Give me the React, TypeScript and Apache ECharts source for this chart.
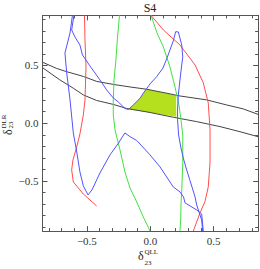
import React, { useEffect, useRef } from "react";
import * as echarts from "echarts";

const X_MIN = -0.85;
const X_MAX = 0.85;
const Y_MIN = -0.933;
const Y_MAX = 0.933;
const MAJOR_X = [-0.5, 0, 0.5];
const MINOR_X = [-0.8, -0.7, -0.6, -0.4, -0.3, -0.2, -0.1, 0.1, 0.2, 0.3, 0.4, 0.6, 0.7, 0.8];
const MAJOR_Y = [-0.5, 0, 0.5];
const MINOR_Y = [-0.9, -0.8, -0.7, -0.6, -0.4, -0.3, -0.2, -0.1, 0.1, 0.2, 0.3, 0.4, 0.6, 0.7, 0.8, 0.9];

const blackUpper = [
  [-0.846, 0.526], [-0.738, 0.474], [-0.659, 0.446], [-0.528, 0.405], [-0.423, 0.362],
  [-0.292, 0.336], [-0.16, 0.314], [-0.028, 0.294], [0.129, 0.26], [0.234, 0.236],
  [0.445, 0.202], [0.603, 0.158], [0.733, 0.124], [0.852, 0.076],
];
const blackLower = [
  [-0.846, 0.478], [-0.713, 0.375], [-0.607, 0.303], [-0.528, 0.245], [-0.423, 0.197],
  [-0.292, 0.163], [-0.186, 0.128], [-0.002, 0.093], [0.181, 0.052], [0.366, 0.014],
  [0.55, -0.029], [0.707, -0.073], [0.852, -0.117],
];
const fillRegion = [
  [-0.173, 0.121], [-0.134, 0.158], [-0.081, 0.216], [-0.055, 0.26], [-0.03, 0.294],
  [0.129, 0.26], [0.203, 0.24], [0.205, 0.056], [-0.002, 0.093],
];
const redLeft = [
  [-0.519, 0.933], [-0.515, 0.721], [-0.507, 0.487], [-0.515, 0.202], [-0.528, 0.072],
  [-0.555, -0.093], [-0.58, -0.205], [-0.61, -0.318], [-0.62, -0.404], [-0.607, -0.508],
  [-0.528, -0.612], [-0.423, -0.716],
];
const redRight = [
  [0.006, 0.933], [0.103, 0.807], [0.234, 0.677], [0.353, 0.504], [0.418, 0.349],
  [0.457, 0.176], [0.471, -0.058], [0.471, -0.343], [0.457, -0.551], [0.431, -0.678],
  [0.392, -0.776], [0.339, -0.933],
];
const greenLeft = [
  [-0.243, 0.933], [-0.26, 0.721], [-0.271, 0.548], [-0.286, 0.375], [-0.292, 0.202],
  [-0.292, 0.072], [-0.278, -0.058], [-0.239, -0.231], [-0.2, -0.421], [-0.16, -0.56],
  [-0.107, -0.681], [-0.055, -0.811], [-0.002, -0.933],
];
const greenRight = [
  [0.006, 0.933], [0.053, 0.781], [0.103, 0.66], [0.155, 0.487], [0.195, 0.314],
  [0.226, 0.158], [0.242, 0.029], [0.256, -0.101], [0.256, -0.343], [0.248, -0.577],
  [0.242, -0.707], [0.24, -0.819], [0.234, -0.933],
];
const blueOne = [
  [-0.614, 0.933], [-0.633, 0.781], [-0.673, 0.608], [-0.659, 0.435], [-0.633, 0.202],
  [-0.607, -0.084], [-0.58, -0.248], [-0.555, -0.421], [-0.528, -0.542], [-0.491, -0.62],
  [-0.46, -0.577], [-0.397, -0.43], [-0.318, -0.274], [-0.252, -0.173], [-0.2, -0.084],
  [-0.16, -0.116], [-0.107, -0.149], [-0.002, -0.274], [0.077, -0.378], [0.181, -0.551],
  [0.234, -0.594], [0.262, -0.638], [0.274, -0.689], [0.366, -0.75], [0.405, -0.785],
  [0.418, -0.933],
];
const blueTwo = [
  [-0.602, 0.933], [-0.62, 0.807], [-0.594, 0.747], [-0.555, 0.677], [-0.535, 0.591],
  [-0.476, 0.496], [-0.397, 0.375], [-0.344, 0.288], [-0.292, 0.219], [-0.252, 0.184],
  [-0.2, 0.128], [-0.173, 0.119], [-0.134, 0.158], [-0.081, 0.216], [-0.055, 0.26],
  [-0.002, 0.34], [0.05, 0.403], [0.1, 0.478], [0.132, 0.565], [0.155, 0.634],
  [0.181, 0.712], [0.2, 0.792], [0.221, 0.79], [0.248, 0.677], [0.256, 0.574],
  [0.246, 0.487], [0.234, 0.375], [0.221, 0.245], [0.215, 0.115], [0.215, 0.029],
  [0.223, -0.101], [0.242, -0.214], [0.26, -0.3], [0.282, -0.387], [0.313, -0.495],
  [0.353, -0.638], [0.366, -0.707], [0.405, -0.837], [0.413, -0.933],
];

const FRAME = "#555555";
const FONT = "Liberation Serif";
const BLUE = "#5252ff";
const RED = "#ff4d4d";
const GREEN = "#42e042";
const BLACK = "#444444";
const FILL = "#b4e01e";

const fmt = (v: number) => (v === 0 ? "0.0" : v < 0 ? "\u2212" + Math.abs(v).toFixed(1) : v.toFixed(1));

function axis(dim: "x" | "y", pos: string, vals: number[], len: number, line: boolean, label: boolean) {
  const isX = dim === "x";
  return {
    type: "value",
    min: isX ? X_MIN : Y_MIN,
    max: isX ? X_MAX : Y_MAX,
    position: pos,
    axisLine: { show: line, onZero: false, lineStyle: { color: FRAME, width: 1 } },
    axisTick: { show: true, inside: true, length: len, customValues: vals, lineStyle: { color: FRAME, width: 1 } },
    axisLabel: {
      show: label,
      customValues: vals,
      formatter: fmt,
      color: "#333",
      fontFamily: FONT,
      fontSize: 11,
      margin: isX ? 4 : 4,
    },
    splitLine: { show: false },
  };
}

function lineSeries(data: number[][], color: string, width = 1) {
  return {
    type: "line",
    data,
    showSymbol: false,
    symbol: "none",
    smooth: false,
    z: 3,
    lineStyle: { color, width },
  };
}

export default function App() {
  const ref = useRef<HTMLDivElement>(null);
  useEffect(() => {
    if (!ref.current) return;
    const chart = echarts.init(ref.current, null, { renderer: "svg" });
    chart.setOption({
      animation: false,
      backgroundColor: "#ffffff",
      grid: { left: 42.5, top: 15.4, width: 215.6, height: 215.7 },
      xAxis: [
        axis("x", "bottom", MAJOR_X, 5, true, true),
        axis("x", "bottom", MINOR_X, 3, false, false),
        axis("x", "top", MAJOR_X, 5, true, false),
        axis("x", "top", MINOR_X, 3, false, false),
      ],
      yAxis: [
        axis("y", "left", MAJOR_Y, 5, true, true),
        axis("y", "left", MINOR_Y, 3, false, false),
        axis("y", "right", MAJOR_Y, 5, true, false),
        axis("y", "right", MINOR_Y, 3, false, false),
      ],
      series: [
        {
          type: "custom",
          z: 1,
          data: fillRegion,
          renderItem: (params: any, api: any) => {
            if (params.dataIndex !== 0) return null;
            const pts = fillRegion.map((p) => api.coord(p));
            return { type: "polygon", shape: { points: pts }, style: { fill: FILL, stroke: "none" } };
          },
        },
        lineSeries(blackUpper, BLACK, 1),
        lineSeries(blackLower, BLACK, 1),
        lineSeries(redLeft, RED),
        lineSeries(redRight, RED),
        lineSeries(greenLeft, GREEN),
        lineSeries(greenRight, GREEN),
        lineSeries(blueOne, BLUE),
        lineSeries(blueTwo, BLUE),
      ],
      graphic: [
        {
          type: "text",
          x: 150,
          y: 8,
          style: { text: "S4", font: `12px "${FONT}"`, fill: "#222", textAlign: "center", textVerticalAlign: "middle" },
        },
        {
          type: "group",
          x: 138,
          y: 256,
          children: [
            { type: "text", x: 0, y: 0, style: { text: "\u03b4", font: `12px "${FONT}"`, fill: "#222", textAlign: "left", textVerticalAlign: "middle" } },
            { type: "text", x: 6.5, y: -4, style: { text: "QLL", font: `7px "${FONT}"`, fill: "#222", textAlign: "left", textVerticalAlign: "middle" } },
            { type: "text", x: 6.5, y: 7, style: { text: "23", font: `7px "${FONT}"`, fill: "#222", textAlign: "left", textVerticalAlign: "middle" } },
          ],
        },
        {
          type: "group",
          x: 8,
          y: 135,
          rotation: Math.PI / 2,
          children: [
            { type: "text", x: 0, y: 0, style: { text: "\u03b4", font: `12px "${FONT}"`, fill: "#222", textAlign: "left", textVerticalAlign: "middle" } },
            { type: "text", x: 6.5, y: -4, style: { text: "DLR", font: `7px "${FONT}"`, fill: "#222", textAlign: "left", textVerticalAlign: "middle" } },
            { type: "text", x: 6.5, y: 2.5, style: { text: "23", font: `7px "${FONT}"`, fill: "#222", textAlign: "left", textVerticalAlign: "middle" } },
          ],
        },
      ],
    });
    return () => chart.dispose();
  }, []);
  return (
    <div
      ref={ref}
      style={{ position: "fixed", left: 0, top: 0, width: 260, height: 269, background: "#fff" }}
    />
  );
}
